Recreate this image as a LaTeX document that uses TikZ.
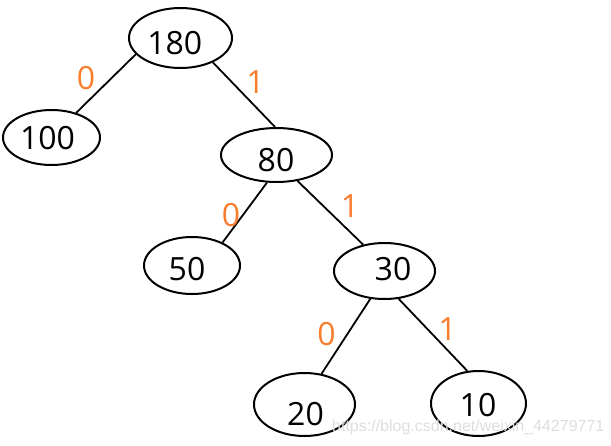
\documentclass[tikz,border=0pt]{standalone}
\usepackage{fontspec}
\setmainfont{Open Sans}
\usetikzlibrary{shapes.geometric}
\definecolor{bitorange}{RGB}{250,125,45}
\definecolor{wmgray}{RGB}{222,222,222}
\begin{document}
\begin{tikzpicture}[x=1pt,y=-1pt,
  nodeell/.style={draw, ellipse, line width=2pt, inner sep=0pt},
  numtext/.style={font=\fontsize{32}{32}\selectfont, inner sep=0pt},
  bitlabel/.style={font=\fontsize{32}{32}\selectfont, text=bitorange, inner sep=0pt},
  treeedge/.style={line width=1.8pt}]
\useasboundingbox (0,0) rectangle (611,445);
% ellipses
\node[nodeell, minimum width=103pt, minimum height=60pt] (n180) at (180.5,38) {};
\node[nodeell, minimum width=97pt, minimum height=55pt] (n100) at (51.5,137.5) {};
\node[nodeell, minimum width=111pt, minimum height=54pt] (n80) at (276.5,155) {};
\node[nodeell, minimum width=96pt, minimum height=57pt] (n50) at (192,265.5) {};
\node[nodeell, minimum width=101pt, minimum height=56pt] (n30) at (384.5,271) {};
\node[nodeell, minimum width=101pt, minimum height=63pt] (n20) at (304.5,404.5) {};
\node[nodeell, minimum width=95pt, minimum height=65pt] (n10) at (478.5,403.5) {};
% numbers
\node[numtext] (t180) at (174.7,43.5) {180};
\node[numtext] (t100) at (47.5,138) {100};
\node[numtext] (t80) at (276,160) {80};
\node[numtext] (t50) at (187,269.5) {50};
\node[numtext] (t30) at (393,269.5) {30};
\node[numtext] (t20) at (305.5,414) {20};
\node[numtext] (t10) at (478,405) {10};
% edges
\draw[treeedge] (n180.200) -- (n100.45);
\draw[treeedge] (n180.-37) -- (n80.93);
\draw[treeedge] (n80.251) -- (n50.37);
\draw[treeedge] (n80.-51.5) -- (n30.129.6);
\draw[treeedge] (n30.243) -- (n20.61);
\draw[treeedge] (n30.-63.4) -- (n10.109.5);
% bit labels
\node[bitlabel] (b1) at (86,78) {0};
\node[bitlabel] (b2) at (255.5,82) {1};
\node[bitlabel] (b3) at (231,215.5) {0};
\node[bitlabel] (b4) at (350,206.5) {1};
\node[bitlabel] (b5) at (326.5,334.5) {0};
\node[bitlabel] (b6) at (447.5,329.5) {1};
% watermark
\node[anchor=west, inner sep=0pt, text=wmgray, font=\fontspec{Liberation Sans}\fontsize{16}{16}\selectfont] (wm) at (332,427) {https://blog.csdn.net/weixin\_44279771};
\end{tikzpicture}
\end{document}
